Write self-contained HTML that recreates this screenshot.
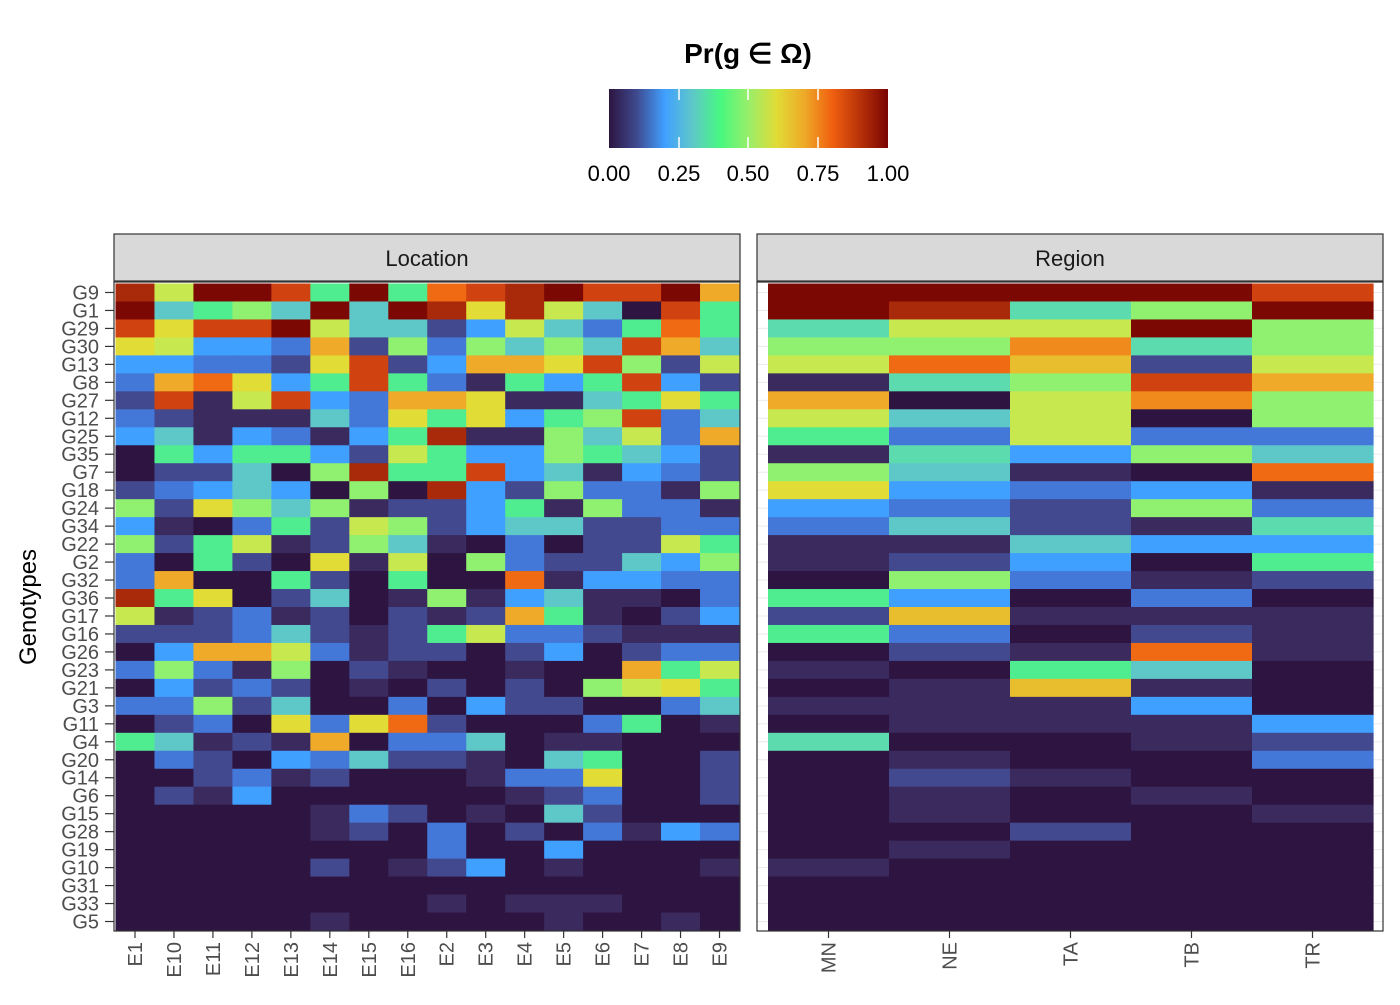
<!DOCTYPE html>
<html><head><meta charset="utf-8"><style>
html,body{margin:0;padding:0;background:#fff;}
svg text{font-family:"Liberation Sans",sans-serif;}
</style></head><body>
<svg id="s" width="1400" height="1000" xmlns="http://www.w3.org/2000/svg">
<defs><linearGradient id="cb" x1="0" x2="1" y1="0" y2="0">
<stop offset="0" stop-color="#2d1540"/><stop offset="0.1" stop-color="#3f4a90"/><stop offset="0.2" stop-color="#40a0ff"/><stop offset="0.3" stop-color="#5ec8c8"/><stop offset="0.4" stop-color="#48f880"/><stop offset="0.5" stop-color="#98ee6a"/><stop offset="0.6" stop-color="#e0dc36"/><stop offset="0.7" stop-color="#eeaa28"/><stop offset="0.8" stop-color="#f06010"/><stop offset="0.9" stop-color="#b83208"/><stop offset="1" stop-color="#7a0403"/>
</linearGradient></defs>
<text x="748" y="63" font-size="28" font-weight="bold" text-anchor="middle">Pr(g ∈ Ω)</text>
<rect x="609" y="89" width="279" height="59" fill="url(#cb)"/>
<g stroke="#fff" stroke-width="1.5"><line x1="679" y1="89" x2="679" y2="100"/><line x1="679" y1="137" x2="679" y2="148"/><line x1="748" y1="89" x2="748" y2="100"/><line x1="748" y1="137" x2="748" y2="148"/><line x1="818" y1="89" x2="818" y2="100"/><line x1="818" y1="137" x2="818" y2="148"/></g>
<g font-size="22" text-anchor="middle" fill="#000"><text x="609" y="181">0.00</text><text x="679" y="181">0.25</text><text x="748" y="181">0.50</text><text x="818" y="181">0.75</text><text x="888" y="181">1.00</text></g>
<rect x="114" y="234" width="626" height="47" fill="#d9d9d9" stroke="#333" stroke-width="1.2"/>
<text x="427" y="266" font-size="22" text-anchor="middle" fill="#1a1a1a">Location</text>
<rect x="757" y="234" width="626" height="47" fill="#d9d9d9" stroke="#333" stroke-width="1.2"/>
<text x="1070" y="266" font-size="22" text-anchor="middle" fill="#1a1a1a">Region</text>
<g id="cells"></g>
<rect x="114" y="282" width="626" height="649" fill="none" stroke="#333" stroke-width="1.2"/>
<rect x="757" y="282" width="626" height="649" fill="none" stroke="#333" stroke-width="1.2"/>
<text transform="translate(36,607) rotate(-90)" font-size="24" text-anchor="middle">Genotypes</text>
</svg>
<script>
var P={'0':'#2e1440','1':'#3a2a5e','2':'#42498f','3':'#4478d8','4':'#40a0ff','5':'#5ec8c8','6':'#50ec90','7':'#90f070','8':'#c8e850','9':'#e2dc36','a':'#eeaa28','b':'#f06a14','c':'#d04210','d':'#a82a0a','e':'#7c0804','f':'#5cdcae','h':'#f08a1c','i':'#e8be2e'};
var G=['G9','G1','G29','G30','G13','G8','G27','G12','G25','G35','G7','G18','G24','G34','G22','G2','G32','G36','G17','G16','G26','G23','G21','G3','G11','G4','G20','G14','G6','G15','G28','G19','G10','G31','G33','G5'];
var L=['d8eec6e6bcdecce a','e5675e5ed9d850c6','c9cce855248536b6','98443a2737575ca5','443329c24aa9c728','3ab946c631646c42','2c18c43aa91156 96','3211153969467c35','4514314 6d117583a','064664286447654 2','0225 07d66c45143 2','234540 70d42733 17'];
</script>
<script>
L=['d8eec6e6bcdecce a'.replace(/ /g,''),
'e5675e5ed9d850c6','c9cce855248536b6','98443a2737575ca5','443329c24aa9c728','3ab946c631646c42','2c18c43aa9115696','3211153969467c35','451431 46d117583a'.replace(/ /g,''),
'0646642864476542','0225 07d66c451432'.replace(/ /g,''),'2345407 0d4273317'.replace(/ /g,''),
'7297571224617331','4103628724552233','7268127510302286','3062091807322547','3a00620600b14433','d6902501714511 03'.replace(/ /g,''),
'8123120212a61024','2223521268332111','04aa8312202402 33'.replace(/ /g,''),'3731702100100a68','0423201020207896','3372500304220035',
'0230939b20003601','6512 1a03350110 00'.replace(/ /g,''),'0320435221056002','0023120001339002','0214000000123002',
'0000013201052000','0000012030203143','0000000030040000','0000020124010001','0000000000000000','0000000010111000','0000010000010010'];
var R=['eeeec','ed5f7e'.slice(0,1)+'df7e','f88e7','77hf7','8bi28','1f7ca','a08h7','85807','63833','1f475','7510b','94341','43273','3521f','11544','12406','07312','64030','2i111','63021','021b1','1065 0'.replace(/ /g,''),'01i10','11140','01114','f0012','01003','02100','01010','01001','00200','01000','10000','00000','00000','00000'];
R[1]='edf7e';
var g=document.getElementById('cells'),ns='http://www.w3.org/2000/svg',h='';
var y0=283.5,rh=(930.5-283.5)/36;
// background grid right/left
for(var i=0;i<36;i++){var yc=y0+rh*(i+0.5);
 h+='<line x1="757" x2="1383" y1="'+yc+'" y2="'+yc+'" stroke="#ebebeb" stroke-width="1"/>';}
var lx0=115.5,lw=(739-115.5)/16;
for(var i=0;i<36;i++){var y=y0+rh*i,row=L[i]||'';
 for(var j=0;j<16;j++){var c=P[row[j]]||P['0'];
  h+='<rect x="'+(lx0+lw*j)+'" y="'+y+'" width="'+(lw+0.6)+'" height="'+(rh+0.6)+'" fill="'+c+'"/>';}
 var r=R[i];var rx0=768,rw=(1373-768)/5;
 for(var j=0;j<5;j++){var c=P[r[j]]||P['0'];
  h+='<rect x="'+(rx0+rw*j)+'" y="'+y+'" width="'+(rw+0.6)+'" height="'+(rh+0.6)+'" fill="'+c+'"/>';}
 var yc=y0+rh*(i+0.5);
 h+='<text x="99" y="'+(yc+7)+'" font-size="20" text-anchor="end" fill="#4d4d4d">'+G[i]+'</text>';
 h+='<line x1="105" x2="114" y1="'+yc+'" y2="'+yc+'" stroke="#333" stroke-width="1.2"/>';
}
var E=['E1','E10','E11','E12','E13','E14','E15','E16','E2','E3','E4','E5','E6','E7','E8','E9'];
for(var j=0;j<16;j++){var xc=lx0+lw*(j+0.5);
 h+='<line x1="'+xc+'" x2="'+xc+'" y1="931" y2="938" stroke="#333" stroke-width="1.2"/>';
 h+='<text transform="translate('+(xc+7)+',942) rotate(-90)" font-size="20" text-anchor="end" fill="#4d4d4d">'+E[j]+'</text>';}
var RG=['MN','NE','TA','TB','TR'];
for(var j=0;j<5;j++){var xc=768+121*(j+0.5);
 h+='<line x1="'+xc+'" x2="'+xc+'" y1="931" y2="938" stroke="#333" stroke-width="1.2"/>';
 h+='<text transform="translate('+(xc+7)+',942) rotate(-90)" font-size="20" text-anchor="end" fill="#4d4d4d">'+RG[j]+'</text>';}
g.innerHTML=h;
</script>
</body></html>
